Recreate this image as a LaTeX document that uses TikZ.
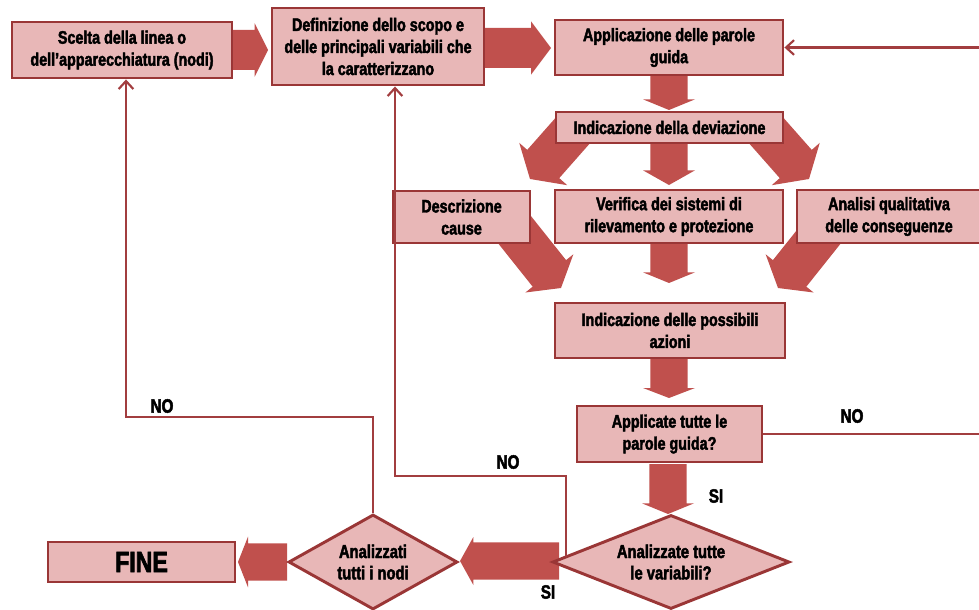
\documentclass[tikz,border=0pt]{standalone}
\usepackage{fontspec}
\setmainfont[FakeStretch=0.79, BoldFeatures={FakeBold=2.4}]{Liberation Sans}
\usetikzlibrary{shapes.geometric,arrows.meta,calc,backgrounds}
\definecolor{boxfill}{HTML}{E8B7B7}
\definecolor{boxline}{HTML}{9A3636}
\definecolor{arrowred}{HTML}{C0504D}
\definecolor{linered}{HTML}{A23D3F}
\newcommand\boxfont{\fontsize{13.6}{16.5}\selectfont\bfseries}
\newcommand\diafont{\fontsize{14}{16}\selectfont\bfseries}
\newcommand\labfont{\fontsize{14.5}{16}\selectfont\bfseries}
\newcommand\finefont{\fontsize{22}{24}\selectfont\bfseries}
% #1 start, #2 tip, #3 half body, #4 half head, #5 head length
\newcommand\fatarrow[5]{%
  \coordinate (fam) at ($(#2)!#5!(#1)$);
  \fill[arrowred] ($(#1)!#3!90:(#2)$) -- ($(fam)!#3!90:(#2)$) -- ($(fam)!#4!90:(#2)$) -- (#2)
    -- ($(fam)!#4!-90:(#2)$) -- ($(fam)!#3!-90:(#2)$) -- ($(#1)!#3!-90:(#2)$) -- cycle;}
\begin{document}
\begin{tikzpicture}[x=0.75pt,y=-0.75pt,
  box/.style={draw=boxline, line width=2.2pt, fill=boxfill, align=center, inner sep=0pt, font=\boxfont},
  dia/.style={box, diamond, aspect=2, font=\diafont},
  conn/.style={draw=linered, line width=1.6pt},
  arr/.style={conn, -{Straight Barb[length=6pt,width=11pt]}},
  lab/.style={font=\labfont, inner sep=0pt}]
\useasboundingbox (0,0) rectangle (979,610);
\clip (0,0) rectangle (979,610);

% boxes
\node[box, minimum width=220*0.75pt, minimum height=56*0.75pt] (b1) at (122,50) {Scelta della linea o\\dell'apparecchiatura (nodi)};
\node[box, minimum width=212*0.75pt, minimum height=77*0.75pt] (b2) at (378,46.5) {Definizione dello scopo e\\delle principali variabili che\\la caratterizzano};
\node[box, minimum width=228*0.75pt, minimum height=55*0.75pt] (b3) at (669,47.5) {Applicazione delle parole\\guida};
\node[box, minimum width=227*0.75pt, minimum height=31*0.75pt] (b4) at (669.5,127.5) {Indicazione della deviazione};
\node[box, minimum width=137*0.75pt, minimum height=52*0.75pt] (b5) at (461.5,217) {Descrizione\\cause};
\node[box, minimum width=228*0.75pt, minimum height=53*0.75pt] (b6) at (669,216.5) {Verifica dei sistemi di\\rilevamento e protezione};
\node[box, minimum width=184*0.75pt, minimum height=53*0.75pt] (b7) at (889,216.5) {Analisi qualitativa\\delle conseguenze};
\node[box, minimum width=230*0.75pt, minimum height=55*0.75pt] (b8) at (670,330.5) {Indicazione delle possibili\\azioni};
\node[box, minimum width=185*0.75pt, minimum height=56*0.75pt] (b9) at (669.5,434) {Applicate tutte le\\parole guida?};
\node[dia, minimum width=237*0.75pt, minimum height=94*0.75pt] (d1) at (671,562) {Analizzate tutte\\le variabili?};
\node[dia, minimum width=169*0.75pt, minimum height=95*0.75pt] (d2) at (373,562) {Analizzati\\tutti i nodi};
\node[box, minimum width=187*0.75pt, minimum height=40*0.75pt, font=\finefont] (fine) at (141.5,562) {FINE};

% labels
\node[lab] (no1) at (162,406) {NO};
\node[lab] (no2) at (508,462) {NO};
\node[lab] (no3) at (852,416) {NO};
\node[lab] (si1) at (716,496) {SI};
\node[lab] (si2) at (548,592) {SI};

\begin{pgfonlayer}{background}
  \coordinate (a1s) at (230,50);  \coordinate (a1t) at (268,50);
  \fatarrow{a1s}{a1t}{15pt}{20pt}{10pt}
  \coordinate (a2s) at (482,48);  \coordinate (a2t) at (551,48);
  \fatarrow{a2s}{a2t}{15pt}{20pt}{15pt}
  \coordinate (a3s) at (669,73);  \coordinate (a3t) at (669,110);
  \fatarrow{a3s}{a3t}{14pt}{19.5pt}{8pt}
  \coordinate (a4s) at (669,141); \coordinate (a4t) at (669,185);
  \fatarrow{a4s}{a4t}{14pt}{19.5pt}{11pt}
  \coordinate (a5s) at (669,241); \coordinate (a5t) at (669,283);
  \fatarrow{a5s}{a5t}{14pt}{19.5pt}{8pt}
  \coordinate (a6s) at (669,356); \coordinate (a6t) at (669,398);
  \fatarrow{a6s}{a6t}{14pt}{19.5pt}{7.5pt}
  \coordinate (a7s) at (668,464); \coordinate (a7t) at (668,514);
  \fatarrow{a7s}{a7t}{14pt}{19.5pt}{8pt}
  \coordinate (a8s) at (559,561); \coordinate (a8t) at (460,561);
  \fatarrow{a8s}{a8t}{14pt}{18pt}{10pt}
  \coordinate (a9s) at (287,562); \coordinate (a9t) at (238,562);
  \fatarrow{a9s}{a9t}{14pt}{19pt}{7.5pt}
  \coordinate (a10s) at (575,128); \coordinate (a10t) at (530,179);
  \fatarrow{a10s}{a10t}{16pt}{24pt}{15pt}
  \coordinate (a11s) at (764,128); \coordinate (a11t) at (809,179);
  \fatarrow{a11s}{a11t}{16pt}{24pt}{15pt}
  \coordinate (a12s) at (514,229); \coordinate (a12t) at (561,288);
  \fatarrow{a12s}{a12t}{16pt}{23pt}{14pt}
  \coordinate (a13s) at (825,229); \coordinate (a13t) at (778,288);
  \fatarrow{a13s}{a13t}{16pt}{23pt}{14pt}
\end{pgfonlayer}

% thin connectors
\coordinate (l1) at (126,417);
\draw[arr] (d2.north) |- (l1) -- (l1 |- b1.south);
\coordinate (m0) at (566,557);
\coordinate (m1) at (566,476);
\coordinate (m2) at (395,476);
\draw[arr] (m0) -- (m1) -- (m2) -- (m2 |- b2.south);
\coordinate (r1) at (995,0);
\draw[arr] (b9.east) -- (b9.east -| r1) -- (r1 |- b3.east) -- (b3.east);
\end{tikzpicture}
\end{document}
